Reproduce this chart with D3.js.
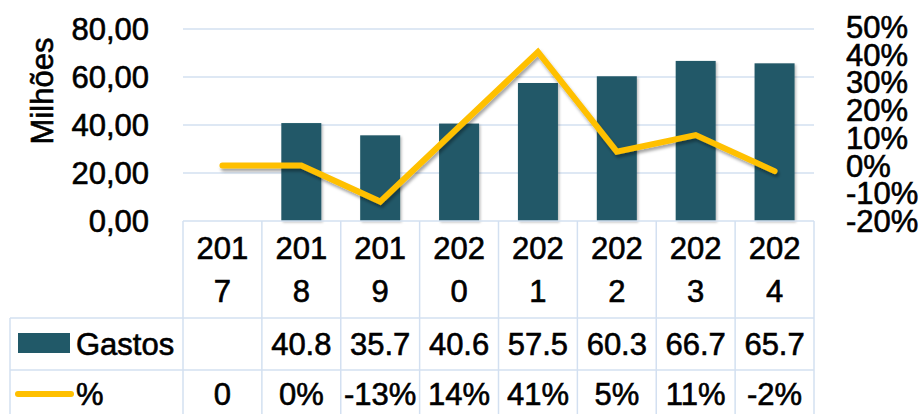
<!DOCTYPE html>
<html><head><meta charset="utf-8">
<script src="https://cdn.jsdelivr.net/npm/d3@7"></script>
<style>
html,body{margin:0;padding:0;background:#fff;}
svg text{font-family:"Liberation Sans",Arial,sans-serif;fill:#000;stroke:#000;stroke-width:0.6px;}
</style></head>
<body>
<svg id="c" width="922" height="414"></svg>
<script>
const categories = ["2017","2018","2019","2020","2021","2022","2023","2024"];
const gastos = [null, 40.8, 35.7, 40.6, 57.5, 60.3, 66.7, 65.7];
const pct = [0, 0, -0.13, 0.14, 0.41, 0.05, 0.11, -0.02];
const pctLabels = ["0","0%","-13%","14%","41%","5%","11%","-2%"];
const leftTicks = [0, 20, 40, 60, 80];
const rightTicks = [-0.2, -0.1, 0, 0.1, 0.2, 0.3, 0.4, 0.5];
const seriesNames = ["Gastos", "%"];
const axisTitle = "Milhões";

const barColor = "#215968", lineColor = "#FFC000", gridColor = "#D3E0F1";
const fs = 31;
const svg = d3.select("#c");
const L = 183, R = 814, T = 29, B = 221;
const loc = d3.formatLocale({decimal:",", thousands:".", grouping:[3], currency:["",""], minus:"-"});
const fLeft = loc.format(".2f"), fRight = loc.format(".0%");

const defs = svg.append("defs");
const sh = defs.append("filter").attr("id","sh").attr("x","-10%").attr("y","-20%").attr("width","130%").attr("height","150%");
sh.append("feDropShadow").attr("dx",1.5).attr("dy",3).attr("stdDeviation",1.8).attr("flood-color","#000").attr("flood-opacity",0.35);
const shb = defs.append("filter").attr("id","shb").attr("x","-20%").attr("y","-10%").attr("width","150%").attr("height","130%");
shb.append("feDropShadow").attr("dx",1.5).attr("dy",1.5).attr("stdDeviation",1.2).attr("flood-color","#000").attr("flood-opacity",0.25);

const x = d3.scaleBand().domain(categories).range([L, R]);
const y = d3.scaleLinear().domain([0, 80]).range([B, T]);
const y2 = d3.scaleLinear().domain([-0.2, 0.5]).range([B, T - 2]);

// gridlines
svg.append("g").selectAll("line").data(leftTicks.filter(d => d > 0)).join("line")
  .attr("x1", L).attr("x2", R).attr("y1", d => y(d)).attr("y2", d => y(d))
  .attr("stroke", gridColor).attr("stroke-width", 1.5);

// left axis labels
svg.append("g").selectAll("text").data(leftTicks).join("text")
  .attr("x", 149).attr("y", d => y(d) + 11).attr("text-anchor","end")
  .attr("font-size", fs).text(d => fLeft(d));

// right axis labels (compressed, as in the reference)
svg.append("g").selectAll("text").data(rightTicks).join("text")
  .attr("x", 846).attr("y", d => y2(d) + 11).attr("text-anchor","start")
  .attr("font-size", fs).text(d => fRight(d));

// axis title
svg.append("text").attr("transform", `translate(53,91) rotate(-90)`)
  .attr("text-anchor","middle").attr("font-size", fs).text(axisTitle);

// bars
const bw = 40;
svg.append("g").attr("filter","url(#shb)").selectAll("rect")
  .data(categories.map((c,i) => ({c, v: gastos[i]})).filter(d => d.v != null)).join("rect")
  .attr("x", d => x(d.c) + x.bandwidth()/2 - bw/2).attr("width", bw)
  .attr("y", d => y(d.v)).attr("height", d => B - y(d.v)).attr("fill", barColor);

// line
const line = d3.line().x((d,i) => x(categories[i]) + x.bandwidth()/2).y(d => y2(d));
svg.append("path").datum(pct).attr("d", line).attr("fill","none")
  .attr("stroke", lineColor).attr("stroke-width", 6).attr("stroke-linecap","round")
  .attr("stroke-linejoin","miter").attr("filter","url(#sh)");

// data table
const r1 = 318, r2 = 370, r3 = 424;
const tg = svg.append("g").attr("stroke", gridColor).attr("stroke-width", 1.5);
tg.append("line").attr("x1", L).attr("x2", R).attr("y1", B).attr("y2", B);
tg.append("line").attr("x1", 10).attr("x2", R).attr("y1", r1).attr("y2", r1);
tg.append("line").attr("x1", 10).attr("x2", R).attr("y1", r2).attr("y2", r2);
tg.append("line").attr("x1", 10).attr("x2", R).attr("y1", r3).attr("y2", r3);
tg.append("line").attr("x1", 10).attr("x2", 10).attr("y1", r1).attr("y2", r3);
tg.selectAll("line.v").data(categories.concat(["end"])).join("line").attr("class","v")
  .attr("x1", (d,i) => L + i * x.bandwidth()).attr("x2", (d,i) => L + i * x.bandwidth())
  .attr("y1", B).attr("y2", r3);

const tt = svg.append("g");
categories.forEach((c, i) => {
  const cx = x(c) + x.bandwidth()/2;
  tt.append("text").attr("x", cx).attr("y", 259).attr("text-anchor","middle").attr("font-size", fs).text(c.slice(0,3));
  tt.append("text").attr("x", cx).attr("y", 302).attr("text-anchor","middle").attr("font-size", fs).text(c.slice(3));
  if (gastos[i] != null)
    tt.append("text").attr("x", cx).attr("y", 355).attr("text-anchor","middle").attr("font-size", fs).text(d3.format(".1f")(gastos[i]));
  tt.append("text").attr("x", cx).attr("y", 405).attr("text-anchor","middle").attr("font-size", fs).text(pctLabels[i]);
});

// legend keys
svg.append("rect").attr("x", 18).attr("y", 333).attr("width", 52).attr("height", 20).attr("fill", barColor);
svg.append("text").attr("x", 76).attr("y", 355).attr("font-size", fs).text(seriesNames[0]);
svg.append("line").attr("x1", 18).attr("x2", 71).attr("y1", 394).attr("y2", 394)
  .attr("stroke", lineColor).attr("stroke-width", 6).attr("stroke-linecap","round");
svg.append("text").attr("x", 76).attr("y", 405).attr("font-size", fs).text(seriesNames[1]);
</script>
</body></html>
